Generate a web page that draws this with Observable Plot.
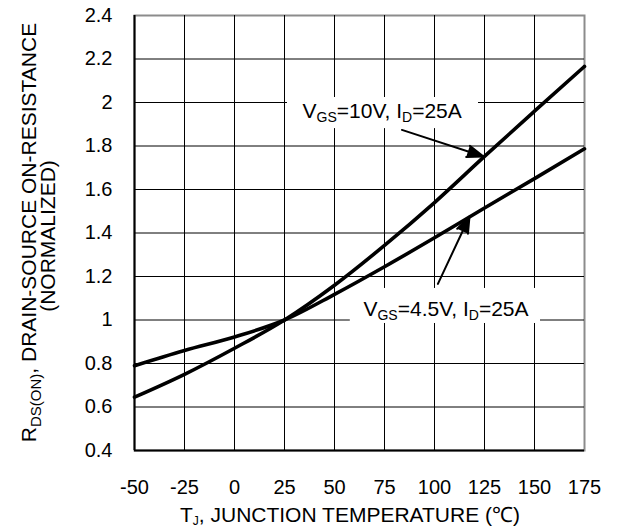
<!DOCTYPE html>
<html>
<head>
<meta charset="utf-8">
<script src="https://cdn.jsdelivr.net/npm/d3@7"></script>
<script src="https://cdn.jsdelivr.net/npm/@observablehq/plot@0.6"></script>
<style>
  html, body { margin: 0; padding: 0; background: #fff; }
  #chart svg { display: block; }
</style>
</head>
<body>
<div id="chart"></div>
<script>
// ---- data ----
const temps = [-50, -25, 0, 25, 50, 75, 100, 125, 150, 175];
const rds10V = [0.645, 0.75, 0.87, 1.0, 1.16, 1.343, 1.54, 1.752, 1.96, 2.166];
const rds45V = [0.79, 0.86, 0.922, 1.0, 1.118, 1.245, 1.378, 1.515, 1.65, 1.787];
const xTicks = [-50, -25, 0, 25, 50, 75, 100, 125, 150, 175];
const yTicks = [0.4, 0.6, 0.8, 1, 1.2, 1.4, 1.6, 1.8, 2, 2.2, 2.4];

// annotation labels (data coordinates)
const labelTexts = ["VGS=10V, ID=25A", "VGS=4.5V, ID=25A"];
const labelX = [73.85, 105.75];
const labelY = [1.959, 1.048];
const boxX1 = [26.5, 57.9];
const boxX2 = [122, 153];
const boxY1 = [1.88, 0.984];
const boxY2 = [2.023, 1.145];
const arrowX1 = [83.7, 101.7];
const arrowY1 = [1.874, 1.166];
const arrowX2 = [124.5, 117.5];
const arrowY2 = [1.752, 1.476];

const rows = [
  ...temps.map((t, i) => ({T: t, r: rds10V[i], s: "10V"})),
  ...temps.map((t, i) => ({T: t, r: rds45V[i], s: "4.5V"}))
];
const labels = labelTexts.map((t, i) => ({
  text: t, x: labelX[i], y: labelY[i],
  x1: boxX1[i], x2: boxX2[i], y1: boxY1[i], y2: boxY2[i],
  ax1: arrowX1[i], ay1: arrowY1[i], ax2: arrowX2[i], ay2: arrowY2[i]
}));

const FONT = "'Liberation Sans', Arial, Helvetica, sans-serif";

const plot = Plot.plot({
  width: 619,
  height: 529,
  marginLeft: 134,
  marginRight: 35,
  marginTop: 15,
  marginBottom: 79,
  style: {fontFamily: FONT, fontSize: "20px", background: "#fff", color: "#000"},
  x: {domain: [-50, 175], ticks: xTicks, tickSize: 0, tickPadding: 29, label: null, tickFormat: d => String(d)},
  y: {domain: [0.4, 2.4], ticks: yTicks, tickSize: 0, tickPadding: 22, label: null, tickFormat: d => String(d)},
  marks: [
    Plot.frame({stroke: "#8c8c8c", strokeWidth: 2}),
    Plot.ruleX(xTicks.slice(1, -1), {stroke: "#000", strokeWidth: 1}),
    Plot.ruleY(yTicks.slice(1, -1), {stroke: "#000", strokeWidth: 1}),
    Plot.ruleX([xTicks[0]], {stroke: "#000", strokeWidth: 2}),
    Plot.ruleY([yTicks[0]], {stroke: "#000", strokeWidth: 2}),
    Plot.rect(labels, {x1: "x1", x2: "x2", y1: "y1", y2: "y2", fill: "#fff"}),
    Plot.line(rows, {x: "T", y: "r", z: "s", stroke: "#000", strokeWidth: 3.6, curve: "monotone-x"}),
    Plot.arrow(labels, {x1: "ax1", y1: "ay1", x2: "ax2", y2: "ay2", stroke: "#000", fill: "#000", strokeWidth: 2, headLength: 13, headAngle: 40}),
    Plot.text(labels, {x: "x", y: "y", text: "text", fontSize: 21, fill: "#000", textAnchor: "middle"})
  ]
});

document.getElementById("chart").appendChild(plot);
const svg = d3.select(plot);

function rich(sel, parts, subSize, shift) {
  sel.text(null);
  let prevSub = false;
  parts.forEach(([t, sub]) => {
    const ts = sel.append("tspan").text(t);
    if (sub && !prevSub) ts.attr("dy", shift).attr("font-size", subSize);
    else if (sub) ts.attr("font-size", subSize);
    else if (!sub && prevSub) ts.attr("dy", -shift);
    prevSub = sub;
  });
}

// rich annotation labels with subscripts
const richParts = {
  "VGS=10V, ID=25A": [["V", false], ["GS", true], ["=10V, I", false], ["D", true], ["=25A", false]],
  "VGS=4.5V, ID=25A": [["V", false], ["GS", true], ["=4.5V, I", false], ["D", true], ["=25A", false]]
};
svg.selectAll("text").each(function () {
  const t = this.textContent;
  if (richParts[t]) rich(d3.select(this), richParts[t], 14, 4);
});

// axis titles
const yt1 = svg.append("text")
  .attr("transform", "translate(36,232.5) rotate(-90)")
  .attr("text-anchor", "middle").attr("font-size", 21).attr("font-family", FONT).attr("fill", "#000");
rich(yt1, [["R", false], ["DS(ON)", true], [", DRAIN-SOURCE ON-RESISTANCE", false]], 15, 5);
svg.append("text")
  .attr("transform", "translate(55,236) rotate(-90)")
  .attr("text-anchor", "middle").attr("font-size", 21).attr("font-family", FONT).attr("fill", "#000")
  .text("(NORMALIZED)");
const xt = svg.append("text")
  .attr("x", 350).attr("y", 522)
  .attr("text-anchor", "middle").attr("font-size", 21).attr("font-family", FONT).attr("fill", "#000");
rich(xt, [["T", false], ["J", true], [", JUNCTION TEMPERATURE (℃)", false]], 12, 3);
</script>
</body>
</html>
